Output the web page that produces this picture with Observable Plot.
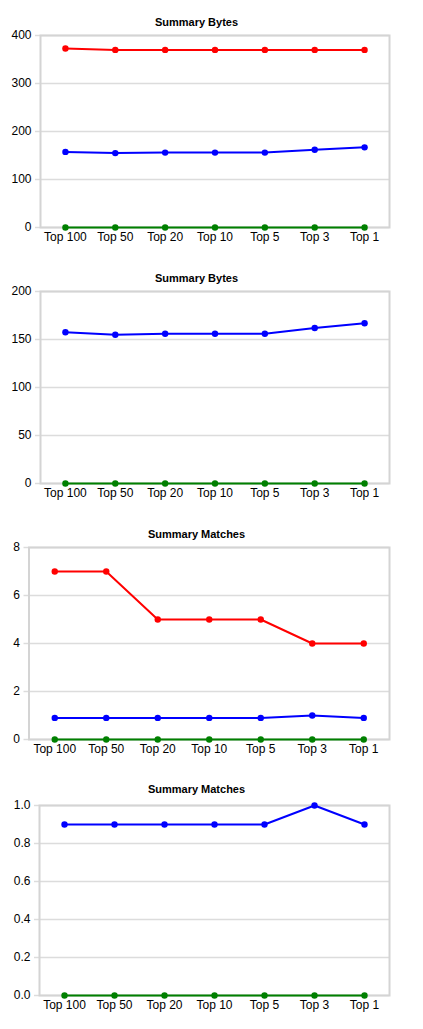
<!DOCTYPE html>
<html>
<head>
<meta charset="utf-8">
<script src="https://cdn.jsdelivr.net/npm/d3@7"></script>
<script src="https://cdn.jsdelivr.net/npm/@observablehq/plot@0.6"></script>
<style>
  html, body { margin: 0; padding: 0; background: #fff; }
  #root { position: relative; width: 423px; height: 1029px; overflow: hidden; background: #fff; }
  .title { position: absolute; left: 0; width: 393px; text-align: center; font: bold 11px "Liberation Sans", Arial, sans-serif; line-height: 11px; color: #000; }
  .chart { position: absolute; left: 0; }
</style>
</head>
<body>
<div id="root"></div>
<script>
const categories = ["Top 100", "Top 50", "Top 20", "Top 10", "Top 5", "Top 3", "Top 1"];

const bytesRed   = [373, 370, 370, 370, 370, 370, 370];
const bytesBlue  = [157.5, 155, 156, 156, 156, 162, 167];
const bytesGreen = [0, 0, 0, 0, 0, 0, 0];

const matchesRed   = [7, 7, 5, 5, 5, 4, 4];
const matchesBlue  = [0.9, 0.9, 0.9, 0.9, 0.9, 1.0, 0.9];
const matchesGreen = [0, 0, 0, 0, 0, 0, 0];

const ticksBytesFull   = [0, 100, 200, 300, 400];
const ticksBytesZoom   = [0, 50, 100, 150, 200];
const ticksMatchesFull = [0, 2, 4, 6, 8];
const ticksMatchesZoom = [0, 0.2, 0.4, 0.6, 0.8, 1.0];

const RED = "#ff0000", BLUE = "#0000ff", GREEN = "#008000";

const charts = [
  {title: "Summary Bytes", series: [[bytesRed, RED], [bytesBlue, BLUE], [bytesGreen, GREEN]],
   domain: [0, 400], ticks: ticksBytesFull, format: d3.format("d"), top: 35, innerH: 192, left: 40, baseline: 26},
  {title: "Summary Bytes", series: [[bytesBlue, BLUE], [bytesGreen, GREEN]],
   domain: [0, 200], ticks: ticksBytesZoom, format: d3.format("d"), top: 291, innerH: 192, left: 40, baseline: 282},
  {title: "Summary Matches", series: [[matchesRed, RED], [matchesBlue, BLUE], [matchesGreen, GREEN]],
   domain: [0, 8], ticks: ticksMatchesFull, format: d3.format("d"), top: 547, innerH: 192, left: 28.5, baseline: 538},
  {title: "Summary Matches", series: [[matchesBlue, BLUE], [matchesGreen, GREEN]],
   domain: [0, 1], ticks: ticksMatchesZoom, format: d3.format(".1f"), top: 805, innerH: 190, left: 39, baseline: 793}
];

const root = document.getElementById("root");
const MT = 10, MB = 30;

for (const c of charts) {
  const t = document.createElement("div");
  t.className = "title";
  t.textContent = c.title;
  t.style.top = (c.baseline - 9.3) + "px";
  root.appendChild(t);

  const seriesMarks = [];
  for (const [vals, color] of c.series) {
    const data = categories.map((cat, i) => ({cat, v: vals[i]}));
    seriesMarks.push(Plot.line(data, {x: "cat", y: "v", stroke: color, strokeWidth: 2}));
    seriesMarks.push(Plot.dot(data, {x: "cat", y: "v", fill: color, r: 3.2}));
  }

  const svg = Plot.plot({
    width: 423,
    height: c.innerH + MT + MB,
    marginTop: MT,
    marginBottom: MB,
    marginLeft: c.left,
    marginRight: 34,
    style: {fontFamily: '"Liberation Sans", Arial, sans-serif', fontSize: "12px", color: "#000", background: "transparent", overflow: "visible"},
    x: {type: "point", domain: categories, padding: 0.5, round: false, label: null},
    y: {domain: c.domain, ticks: c.ticks, label: null},
    marks: [
      Plot.gridY(c.ticks, {stroke: "#dcdcdc", strokeOpacity: 1, strokeWidth: 1.5}),
      Plot.axisY(c.ticks, {tickSize: 5, tickPadding: 4, stroke: "#dcdcdc", strokeOpacity: 1, strokeWidth: 1.5, tickFormat: c.format, label: null, fill: "#000"}),
      Plot.axisX({tickSize: 0, tickPadding: 5, label: null, fill: "#000"}),
      Plot.frame({stroke: "#d4d4d4", strokeWidth: 2}),
      ...seriesMarks
    ]
  });
  svg.classList.add("chart");
  svg.style.top = (c.top - MT) + "px";
  root.appendChild(svg);
}
</script>
</body>
</html>
